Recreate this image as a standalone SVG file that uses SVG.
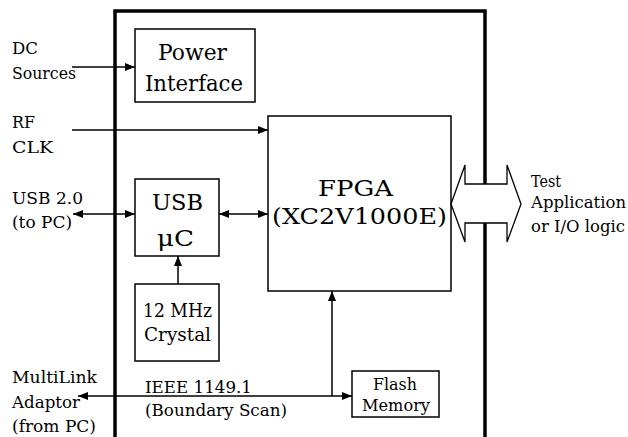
<svg xmlns="http://www.w3.org/2000/svg" width="628" height="437" viewBox="0 0 628 437">
<style>
.t{font-family:"DejaVu Serif","Liberation Serif",serif;fill:#000}
.box{fill:#fff;stroke:#000;stroke-width:1.5}
.ln{fill:none;stroke:#000;stroke-width:1.5}
</style>
<defs>
<marker id="ah" viewBox="0 0 10 8" refX="10" refY="4" markerWidth="10" markerHeight="8" markerUnits="userSpaceOnUse" orient="auto-start-reverse">
<path d="M0,0 L10,4 L0,8 Z" fill="#000"/>
</marker>
</defs>
<rect width="628" height="437" fill="#fff"/>
<path id="outer" d="M115,440 V11 H485 V440" fill="none" stroke="#000" stroke-width="3.5"/>
<g id="labels-left">
<text class="t" x="12" y="54" font-size="17" textLength="26" lengthAdjust="spacingAndGlyphs">DC</text>
<text class="t" x="12" y="79" font-size="17" textLength="64" lengthAdjust="spacingAndGlyphs">Sources</text>
<text class="t" x="12" y="128" font-size="17" textLength="23" lengthAdjust="spacingAndGlyphs">RF</text>
<text class="t" x="12" y="153" font-size="17" textLength="41" lengthAdjust="spacingAndGlyphs">CLK</text>
<text class="t" x="12" y="204" font-size="17" textLength="71" lengthAdjust="spacingAndGlyphs">USB 2.0</text>
<text class="t" x="12" y="228" font-size="17" textLength="60" lengthAdjust="spacingAndGlyphs">(to PC)</text>
<text class="t" x="12" y="383" font-size="17" textLength="85" lengthAdjust="spacingAndGlyphs">MultiLink</text>
<text class="t" x="12" y="408" font-size="17" textLength="68" lengthAdjust="spacingAndGlyphs">Adaptor</text>
<text class="t" x="12" y="432" font-size="17" textLength="84" lengthAdjust="spacingAndGlyphs">(from PC)</text>
</g>
<g id="power">
<rect class="box" x="135" y="29" width="120" height="73"/>
<text class="t" x="158" y="60" font-size="23" textLength="69" lengthAdjust="spacingAndGlyphs">Power</text>
<text class="t" x="145" y="91" font-size="23" textLength="98" lengthAdjust="spacingAndGlyphs">Interface</text>
</g>
<g id="fpga">
<rect class="box" x="268" y="116" width="183" height="175"/>
<text class="t" x="318" y="196" font-size="23" textLength="75" lengthAdjust="spacingAndGlyphs">FPGA</text>
<text class="t" x="272" y="224" font-size="23" textLength="175" lengthAdjust="spacingAndGlyphs">(XC2V1000E)</text>
</g>
<g id="usb">
<rect class="box" x="135" y="179" width="84" height="77"/>
<text class="t" x="152" y="210" font-size="23" textLength="51" lengthAdjust="spacingAndGlyphs">USB</text>
<text class="t" x="157" y="246" font-size="23" textLength="37" lengthAdjust="spacingAndGlyphs">μC</text>
</g>
<g id="crystal">
<rect class="box" x="135" y="284" width="84" height="77"/>
<text class="t" x="143" y="317" font-size="18" textLength="69" lengthAdjust="spacingAndGlyphs">12 MHz</text>
<text class="t" x="144" y="341" font-size="18" textLength="67" lengthAdjust="spacingAndGlyphs">Crystal</text>
</g>
<g id="flash">
<rect class="box" x="352" y="371" width="87" height="46"/>
<text class="t" x="373" y="390" font-size="17" textLength="44" lengthAdjust="spacingAndGlyphs">Flash</text>
<text class="t" x="362" y="411" font-size="17" textLength="68" lengthAdjust="spacingAndGlyphs">Memory</text>
</g>
<g id="connectors">
<line class="ln" x1="72" y1="67" x2="135" y2="67" marker-end="url(#ah)"/>
<line class="ln" x1="72" y1="130" x2="268" y2="130" marker-end="url(#ah)"/>
<line class="ln" x1="73" y1="214" x2="135" y2="214" marker-start="url(#ah)" marker-end="url(#ah)"/>
<line class="ln" x1="219" y1="214" x2="268" y2="214" marker-start="url(#ah)" marker-end="url(#ah)"/>
<line class="ln" x1="178" y1="284" x2="178" y2="256" marker-end="url(#ah)"/>
<line class="ln" x1="78" y1="396" x2="352" y2="396" marker-start="url(#ah)" marker-end="url(#ah)"/>
<line class="ln" x1="332" y1="396" x2="332" y2="291" marker-end="url(#ah)"/>
<path id="bus" d="M451,204 L465,165 V184 H507 V165 L521,204 L507,242 V223 H465 V242 Z" fill="#fff" stroke="#000" stroke-width="1.3"/>
</g>
<g id="labels-other">
<text class="t" x="145" y="393" font-size="17" textLength="107" lengthAdjust="spacingAndGlyphs">IEEE 1149.1</text>
<text class="t" x="145" y="416" font-size="17" textLength="142" lengthAdjust="spacingAndGlyphs">(Boundary Scan)</text>
<text class="t" x="531" y="187" font-size="17" textLength="30" lengthAdjust="spacingAndGlyphs">Test</text>
<text class="t" x="531" y="208" font-size="17" textLength="95" lengthAdjust="spacingAndGlyphs">Application</text>
<text class="t" x="531" y="232" font-size="17" textLength="94" lengthAdjust="spacingAndGlyphs">or I/O logic</text>
</g>
</svg>
